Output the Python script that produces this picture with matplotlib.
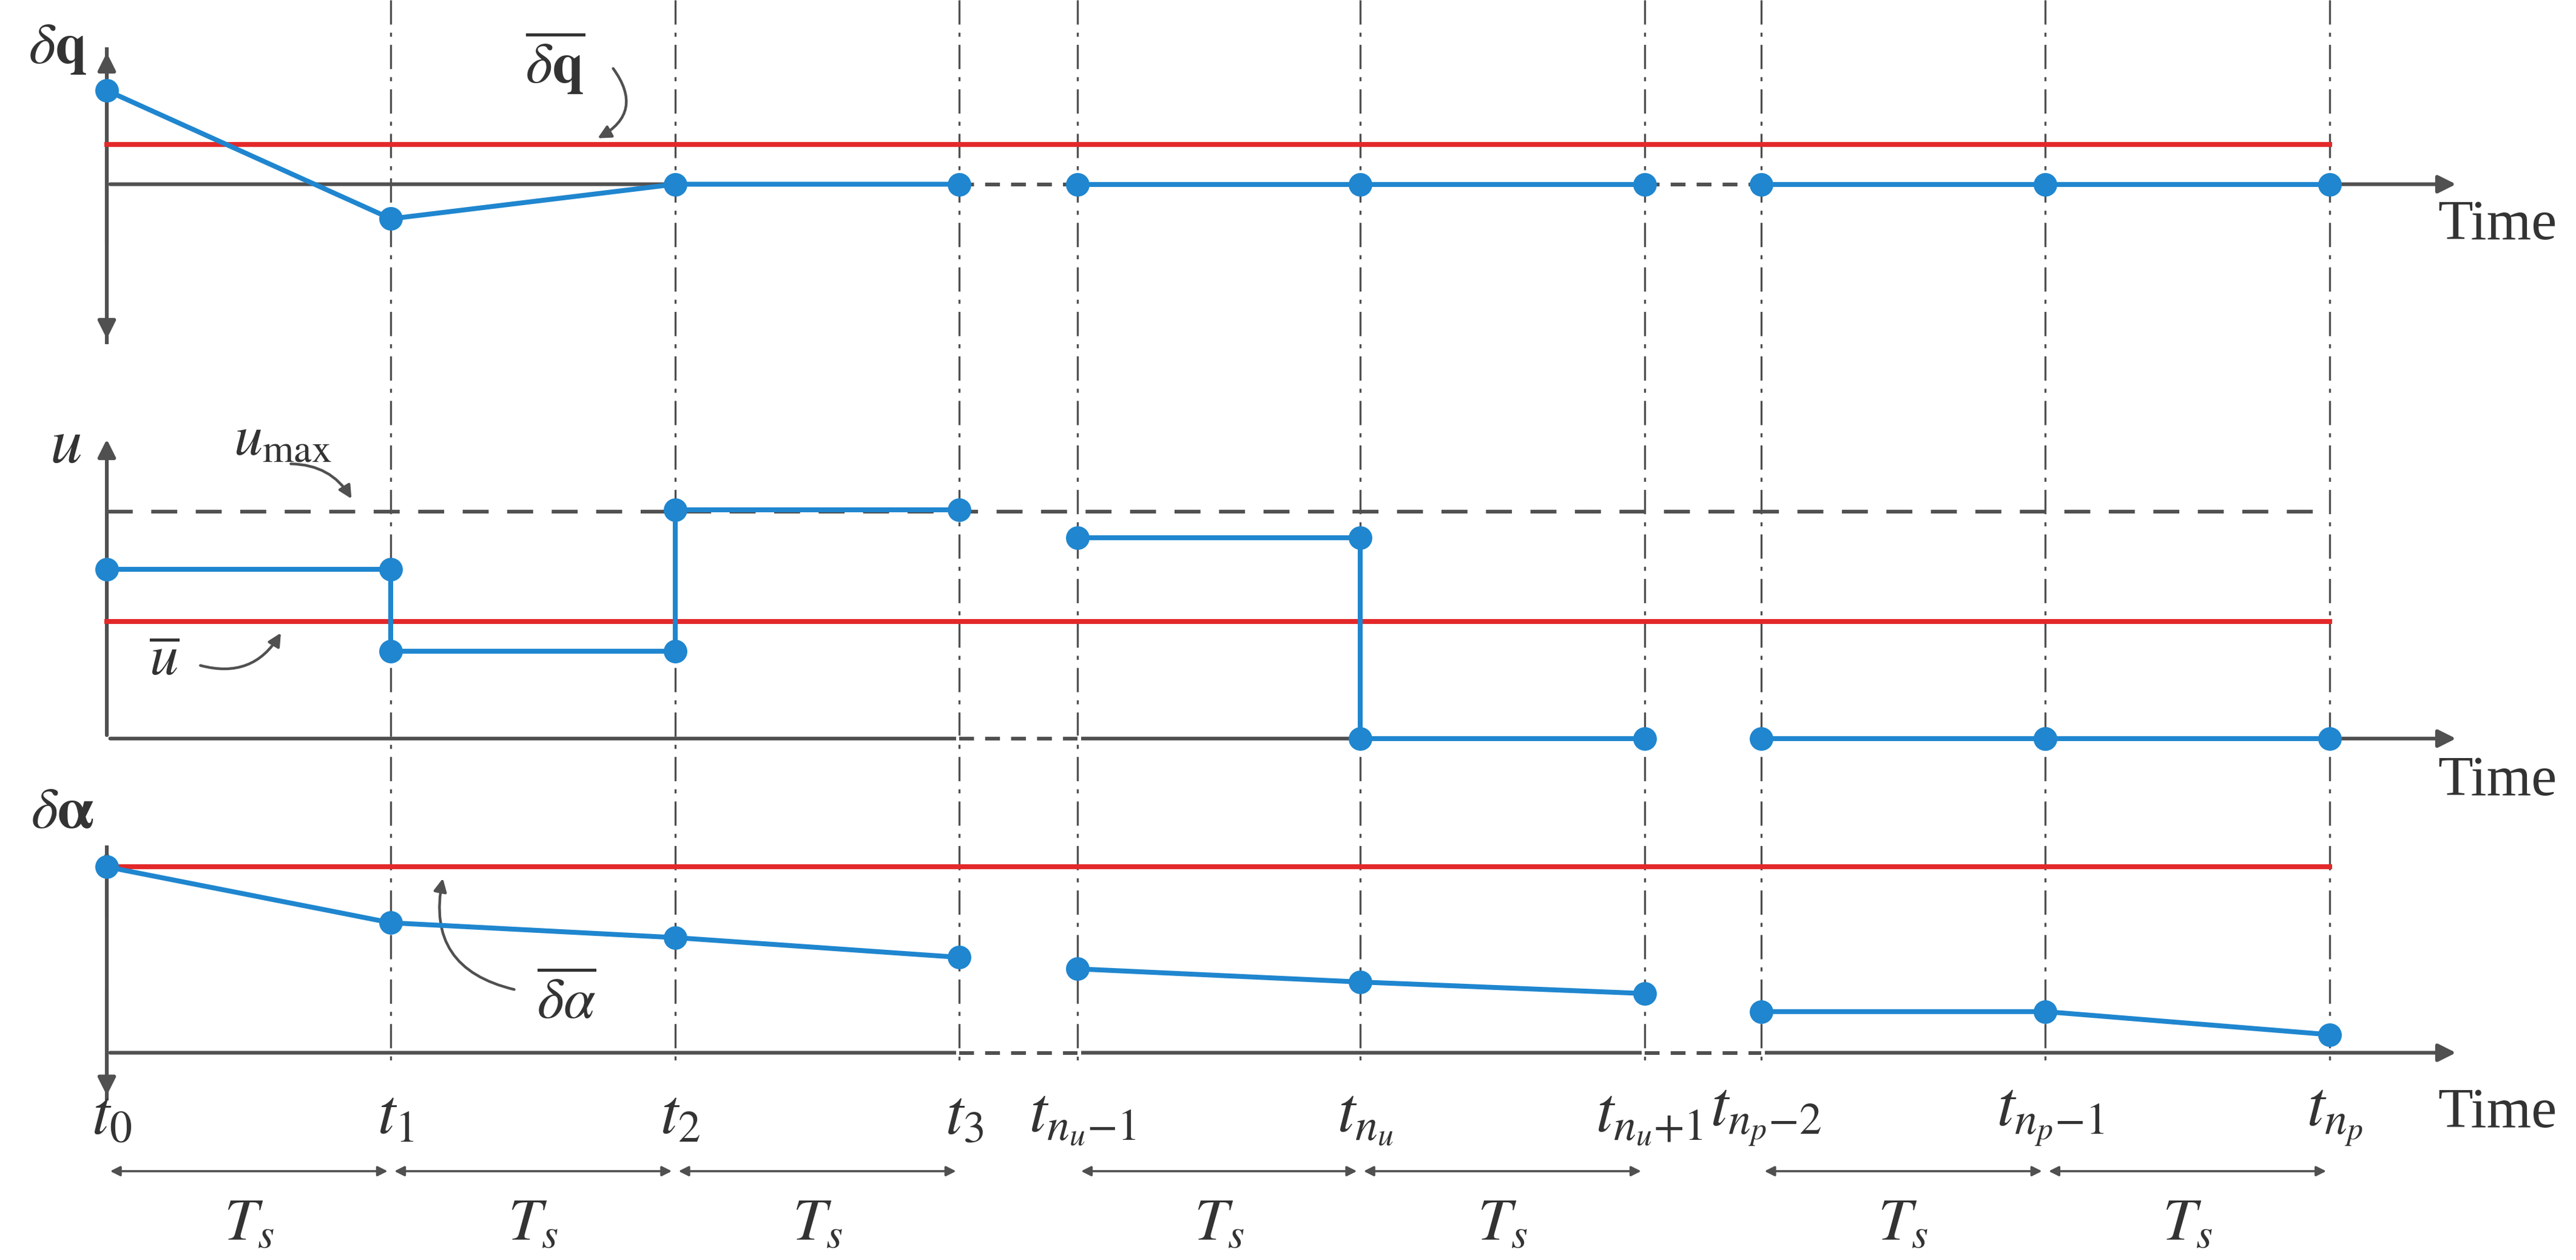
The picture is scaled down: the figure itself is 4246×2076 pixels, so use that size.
import matplotlib
matplotlib.use("Agg")
import matplotlib.pyplot as plt
from matplotlib.patches import FancyArrowPatch

plt.rcParams['mathtext.fontset'] = 'stix'
plt.rcParams['font.family'] = ['Liberation Serif', 'DejaVu Serif']

BLUE = '#1f86cf'; RED = '#e3282a'; GRAY = '#505050'

# time grid (drawing units)
t_x = [65, 238, 411, 584, 656, 828, 1001, 1072, 1245, 1418]
t_labels = [r'$t_{\mathit{0}}$', r'$t_{\mathit{1}}$', r'$t_{\mathit{2}}$', r'$t_{\mathit{3}}$',
            r'$t_{n_u\mathit{-1}}$', r'$t_{n_u}$', r'$t_{n_u\mathit{+1}}$',
            r'$t_{n_p\mathit{-2}}$', r'$t_{n_p\mathit{-1}}$', r'$t_{n_p}$']
segments = [(0, 4), (4, 7), (7, 10)]

# panel baselines and values (y in drawing units, downward)
dq_base = 112; dq_bar = 88
dq_vals = [55, 133, 112, 112, 112, 112, 112, 112, 112, 112]
u_base = 449; u_max = 311; u_bar = 378
u_steps = [(0, 1, 346), (1, 2, 396), (2, 3, 310), (4, 5, 327), (5, 6, 449), (7, 8, 449), (8, 9, 449)]
da_base = 640; da_bar = 527
da_vals = [527, 561, 570, 582, 589, 597, 604, 615, 615, 629]

fig = plt.figure(figsize=(21.23, 10.38), dpi=200)
ax = fig.add_axes([0, 0, 1, 1])
ax.set_xlim(0, 1568); ax.set_ylim(766, 0); ax.axis('off')

lw = 2.9; ms = 13
def arrow(x0, y0, x1, y1, style='-|>', ms_=22, lw_=2.2, col=GRAY, conn=None):
    a = FancyArrowPatch((x0, y0), (x1, y1), arrowstyle=style, mutation_scale=ms_,
                        lw=lw_, color=col, connectionstyle=conn or 'arc3', zorder=3)
    ax.add_patch(a)

# vertical dash-dot grid
for x in t_x[1:]:
    ax.plot([x, x], [0, 648], color=GRAY, lw=1.2, ls=(0, (12, 4, 2, 4)), zorder=1)

# axes
for base in (dq_base, u_base, da_base):
    arrow(65, base, 1497, base)
    for gap in ((584, 656), (1001, 1072)):
        ax.plot(gap, [base, base], color='white', lw=4, zorder=3.5)
for base in (dq_base, da_base):
    ax.plot([584, 656], [base, base], color=GRAY, lw=2.2, ls=(0, (4, 3)), zorder=4)
    ax.plot([1001, 1072], [base, base], color=GRAY, lw=2.2, ls=(0, (4, 3)), zorder=4)
ax.plot([584, 656], [u_base, u_base], color=GRAY, lw=2.2, ls=(0, (4, 3)), zorder=4)
arrow(65, 150, 65, 30); arrow(65, 90, 65, 208)
arrow(65, u_base, 65, 265)
arrow(65, 560, 65, 515); arrow(65, 600, 65, 668)
ax.plot([65, 65], [30, 208], color=GRAY, lw=2.2)
ax.plot([65, 65], [515, 668], color=GRAY, lw=2.2)

# red bounds and u_max
ax.plot([65, 1418], [dq_bar, dq_bar], color=RED, lw=lw, zorder=5)
ax.plot([65, 1418], [u_bar, u_bar], color=RED, lw=lw, zorder=5)
ax.plot([65, 1418], [da_bar, da_bar], color=RED, lw=lw, zorder=5)
ax.plot([65, 1418], [u_max, u_max], color=GRAY, lw=2.2, ls=(0, (7, 5)), zorder=2)

# blue series
for a, b in segments:
    xs = t_x[a:b]
    ax.plot(xs, dq_vals[a:b], color=BLUE, lw=lw, marker='o', ms=ms, zorder=6)
    ax.plot(xs, da_vals[a:b], color=BLUE, lw=lw, marker='o', ms=ms, zorder=6)
prev = None
for i0, i1, v in u_steps:
    ax.plot([t_x[i0], t_x[i1]], [v, v], color=BLUE, lw=lw, zorder=6)
    ax.plot([t_x[i0], t_x[i1]], [v, v], 'o', color=BLUE, ms=ms, zorder=7)
    if prev is not None and prev[0] == i0 and prev[1] != v:
        ax.plot([t_x[i0], t_x[i0]], [prev[1], v], color=BLUE, lw=lw, zorder=6)
    prev = (i1, v)

# labels
fs = 34
C = '#333'
for y in (137, 475, 677):
    ax.text(1520, y, 'Time', fontsize=fs, ha='center', va='center', color=C)
for x, lab in zip(t_x, t_labels):
    ax.text(x + 3, 680, lab, fontsize=38, ha='center', va='center', color=C)
ax.text(35, 30, r'$\delta\mathbf{q}$', fontsize=fs, ha='center', va='center', color=C)
ax.text(40, 272, r'$u$', fontsize=38, ha='center', va='center', color=C)
ax.text(38, 495, r'$\delta\mathbf{\alpha}$', fontsize=fs, ha='center', va='center', color=C)
ax.text(338, 38, r'$\overline{\delta\mathbf{q}}$', fontsize=fs, ha='center', va='center', color=C)
ax.text(172, 268, r'$u_{\mathrm{max}}$', fontsize=fs, ha='center', va='center', color=C)
ax.text(100, 402, r'$\overline{u}$', fontsize=fs, ha='center', va='center', color=C)
ax.text(345, 610, r'$\overline{\delta\alpha}$', fontsize=fs, ha='center', va='center', color=C)
arrow(372, 40, 362, 85, ms_=16, lw_=1.6, conn='arc3,rad=-0.6')
arrow(175, 282, 215, 305, ms_=16, lw_=1.6, conn='arc3,rad=-0.3')
arrow(120, 404, 172, 383, ms_=16, lw_=1.6, conn='arc3,rad=0.4')
arrow(315, 602, 270, 532, ms_=16, lw_=1.6, conn='arc3,rad=-0.5')

# Ts arrows
for a, b in segments:
    for i in range(a, b - 1):
        arrow(t_x[i], 712, t_x[i + 1], 712, style='<|-|>', ms_=12, lw_=1.3)
        ax.text((t_x[i] + t_x[i + 1]) / 2, 745, r'$T_s$', fontsize=36, ha='center',
                va='center', color=C)

fig.savefig('out.png', dpi=200)
